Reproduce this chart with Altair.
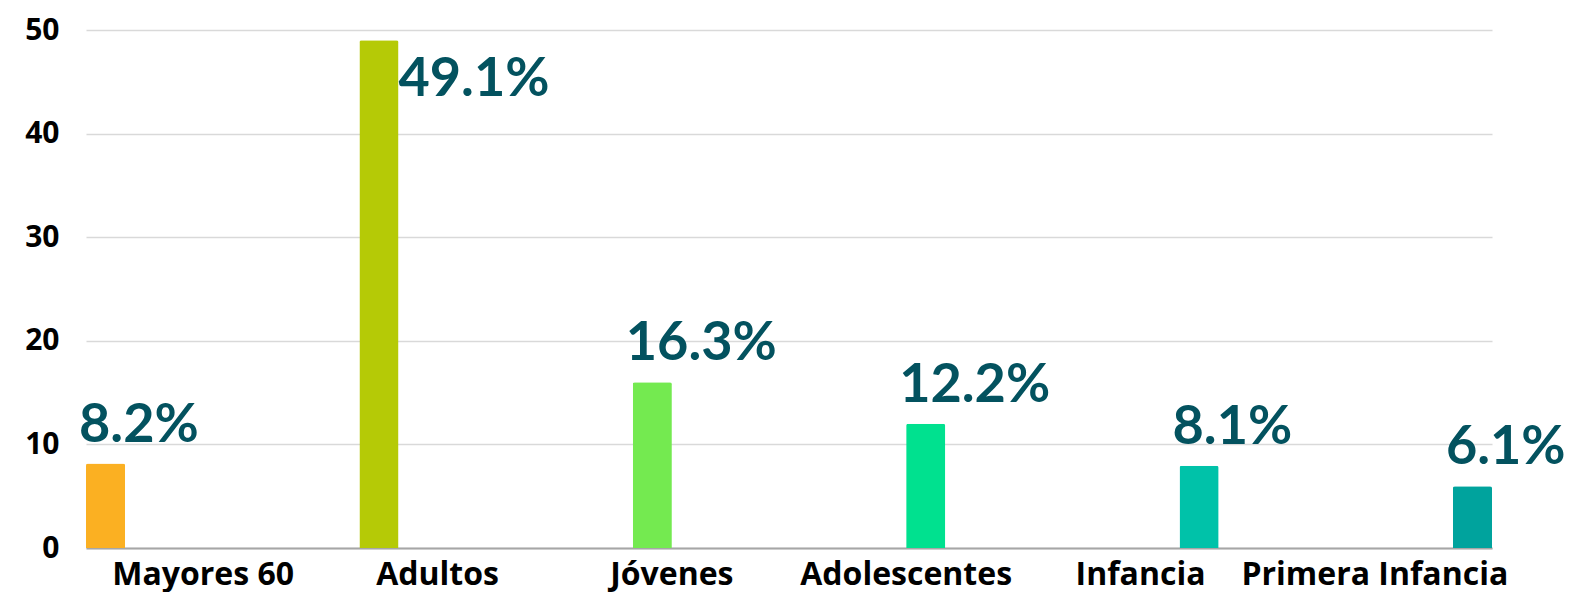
import altair as alt
import pandas as pd

categories = ["Mayores 60", "Adultos", "Jóvenes", "Adolescentes", "Infancia", "Primera Infancia"]
bar_values = [8.15, 49.0, 16.0, 12.0, 7.95, 5.95]
pct_labels = ["8.2%", "49.1%", "16.3%", "12.2%", "8.1%", "6.1%"]
bar_colors = ["#FBB022", "#B5CA06", "#74EA50", "#00E18F", "#00C2A9", "#00A39D"]
y_ticks = [0, 10, 20, 30, 40, 50]

df = pd.DataFrame({"cat": categories, "val": bar_values, "lab": pct_labels})

FONT = "Lato"
AXFONT = "Open Sans"
TEXT_COLOR = "#03525F"

bar_scale = alt.Scale(type="band", domain=categories, paddingInner=0.857, paddingOuter=0)
y_enc = alt.Y("val:Q", scale=alt.Scale(domain=[0, 50], nice=False),
              axis=alt.Axis(values=y_ticks, title=None, grid=True, domain=False, ticks=False,
                            labelPadding=27, labelFont=AXFONT, labelFontSize=30,
                            labelFontWeight="bold", labelColor="black",
                            gridColor="#D9D9D9", gridWidth=1.5))

bars = alt.Chart(df).mark_bar(cornerRadiusTopLeft=2, cornerRadiusTopRight=2).encode(
    x=alt.X("cat:N", sort=categories, scale=bar_scale, axis=None),
    y=y_enc,
    color=alt.Color("cat:N", sort=categories,
                    scale=alt.Scale(domain=categories, range=bar_colors), legend=None),
)

labels_above = alt.Chart(df).transform_filter("datum.val < 40").mark_text(
    align="left", baseline="alphabetic", dx=-7, dy=-22, font=FONT, fontSize=54,
    fontWeight="bold", color=TEXT_COLOR
).encode(
    x=alt.X("cat:N", sort=categories, scale=bar_scale, axis=None, bandPosition=0),
    y=alt.Y("val:Q"),
    text="lab:N",
)

labels_side = alt.Chart(df).transform_filter("datum.val >= 40").mark_text(
    align="left", baseline="alphabetic", dy=56, font=FONT, fontSize=54,
    fontWeight="bold", color=TEXT_COLOR
).encode(
    x=alt.X("cat:N", sort=categories, scale=bar_scale, axis=None, bandPosition=1),
    y=alt.Y("val:Q"),
    text="lab:N",
)

axis_layer = alt.Chart(df).mark_point(opacity=0).encode(
    x=alt.X("cat:N", sort=categories,
            scale=alt.Scale(type="band", domain=categories, paddingInner=0, paddingOuter=0),
            axis=alt.Axis(title=None, labelAngle=0, ticks=False, domain=True,
                          domainColor="#A6A6A6", domainWidth=2, labelPadding=11,
                          labelFont=AXFONT, labelFontSize=32, labelFontWeight="bold",
                          labelColor="black", labelLimit=0, grid=False)),
    y=alt.Y("val:Q"),
)

chart = alt.layer(bars, labels_above, labels_side, axis_layer).resolve_scale(
    x="independent"
).properties(
    width=1406, height=518,
    autosize=alt.AutoSizeParams(type="none"),
    padding={"left": 78, "top": 22, "right": 75, "bottom": 44},
).configure_view(stroke=None)

chart.save("out.html", embed_options={"renderer": "svg", "actions": False})
